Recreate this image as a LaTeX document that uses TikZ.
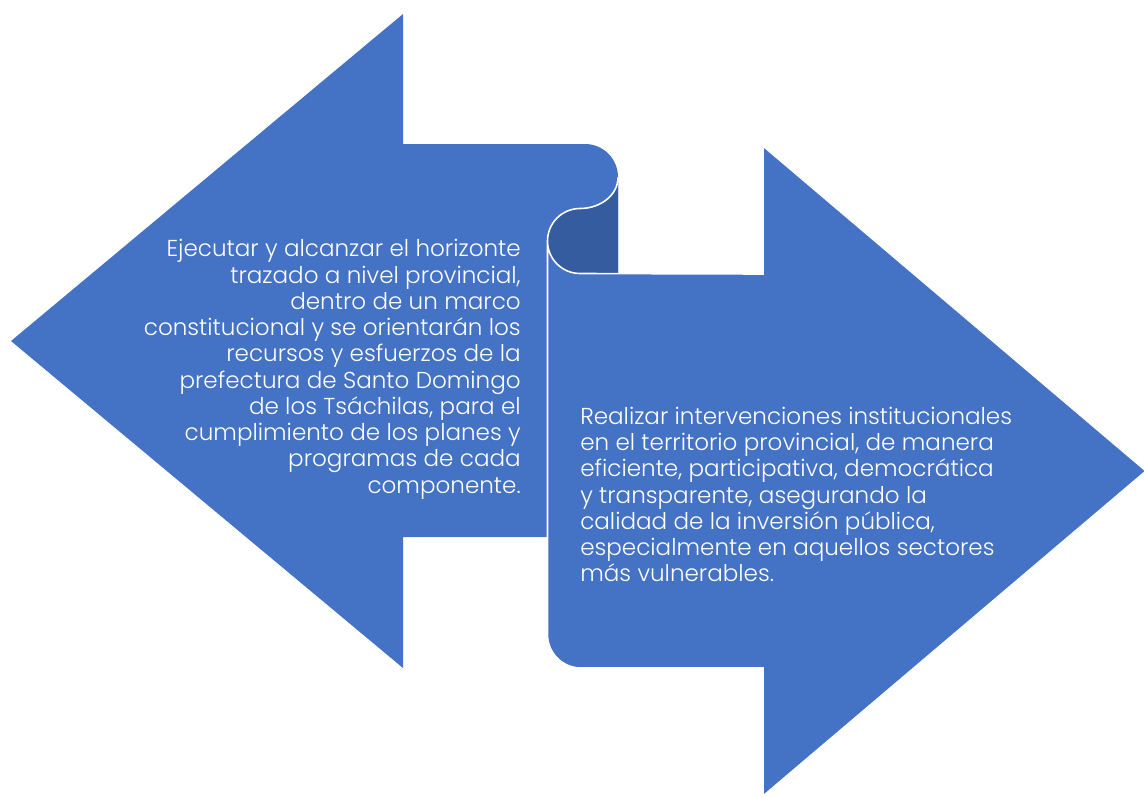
\documentclass[tikz,border=0pt]{standalone}
\usepackage{fontspec}
\setmainfont{Poppins Light}
\definecolor{ribbon}{HTML}{4472C4}
\definecolor{fold}{HTML}{355C9E}
\begin{document}
\begin{tikzpicture}[x=0.75pt,y=-0.75pt,
  body/.style={fill=ribbon},
  edge/.style={draw=white,line width=1.2pt},
  txt/.style={text=white,inner sep=0pt,font=\fontsize{17.3}{19.7}\selectfont}]
\useasboundingbox (0,0) rectangle (1144,796);
% left arrow (back)
\path[body] (11,341) -- (403,14) -- (403,144) -- (585,144)
  arc[start angle=270,end angle=360,radius=33] -- (618,274) -- (548,274)
  -- (548,537) -- (403,537) -- (403,668) -- cycle;
% fold
\path[fill=fold] (618,177) -- (618,274) -- (580,274)
  arc[start angle=90,end angle=270,radius=33]
  arc[start angle=90,end angle=0,x radius=38,y radius=31] -- cycle;
% right arrow (front)
\path[body,edge] (547.5,241) arc[start angle=180,end angle=90,radius=32.5]
  -- (763,274) -- (763,146) -- (1146,471) -- (763,796) -- (763,668)
  -- (581,668) arc[start angle=90,end angle=180,radius=33.5] -- cycle;
\draw[edge] (547.5,241) arc[start angle=180,end angle=270,radius=32.5]
  arc[start angle=90,end angle=0,x radius=38,y radius=31];
\node[txt,anchor=base east,align=right] (ltext) at (521,493.2)
 {Ejecutar y alcanzar el horizonte\\trazado a nivel provincial,\\dentro de un marco\\constitucional y se orientarán los\\recursos y esfuerzos de la\\prefectura de Santo Domingo\\de los Tsáchilas, para el\\cumplimiento de los planes y\\programas de cada\\componente.};
\node[txt,anchor=base west,align=left] (rtext) at (580,581.8)
 {Realizar intervenciones institucionales\\en el territorio provincial, de manera\\eficiente, participativa, democrática\\y transparente, asegurando la\\calidad de la inversión pública,\\especialmente en aquellos sectores\\más vulnerables.};
\end{tikzpicture}
\end{document}
